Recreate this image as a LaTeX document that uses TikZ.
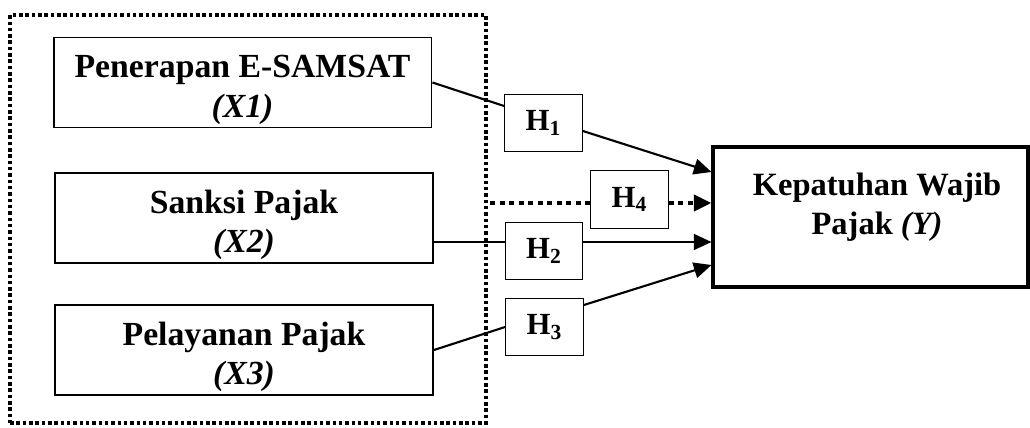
\documentclass[tikz,border=0pt]{standalone}
\usepackage{fontspec}
\setmainfont{Liberation Serif}
\usetikzlibrary{arrows.meta}
\tikzset{
  varbox/.style={draw,line width=1.1pt,inner ysep=0pt,minimum width=7.56cm,minimum height=1.8cm,align=center,font=\fontsize{19.2}{22.5}\selectfont\bfseries},
  hbox/.style={draw,line width=0.7pt,minimum width=1.55cm,minimum height=1.15cm,font=\fontsize{17.5}{20}\selectfont\bfseries},
  framebox/.style={draw,line width=2.2pt,dash pattern=on 2pt off 1.6pt,minimum width=9.52cm,minimum height=8.16cm},
  link/.style={line width=1.2pt},
  linkarrow/.style={line width=1.2pt,-{Triangle[length=10pt,width=9pt]}}
}
% strut that pushes the text a little down in the box
\newcommand{\downstrut}{\rule{0pt}{21pt}}
\begin{document}
\begin{tikzpicture}[x=0.02cm,y=-0.02cm]
  \useasboundingbox (0,0) rectangle (1030,428);
  %variabel bebas
  \node[framebox] (frame) at (248,219) {};
  \node[varbox] (X1) at (242.5,82.5) {\downstrut Penerapan E-SAMSAT\\\textit{(X1)}};
  \node[varbox] (X2) at (244,218) {\downstrut Sanksi Pajak\\\textit{(X2)}};
  \node[varbox] (X3) at (244,350) {\downstrut Pelayanan Pajak\\\textit{(X3)}};
  %variabel terikat
  \node[draw,line width=1.8pt,minimum width=6.3cm,minimum height=2.8cm] (Y) at (870.5,217) {};
  \node[align=center,font=\fontsize{18.5}{22.5}\selectfont\bfseries] (Ytext) at (877,207) {Kepatuhan Wajib\\Pajak \textit{(Y)}};
  %hipotesis
  \node[hbox] (H1) at (543.5,123) {H\textsubscript{1}};
  \node[hbox] (H4) at (629.5,199.5) {H\textsubscript{4}};
  \node[hbox] (H2) at (544,251) {H\textsubscript{2}};
  \node[hbox] (H3) at (544.5,327) {H\textsubscript{3}};
  %H1
  \draw[link] (X1.east) -- ([yshift=0.34cm]H1.west);
  \draw[linkarrow] ([yshift=-0.16cm]H1.east) -- ([yshift=0.9cm]Y.west);
  %H2
  \draw[link] ([yshift=-0.48cm]X2.east) coordinate (a2) -- (a2 -| H2.west);
  \draw[linkarrow] (a2 -| H2.east) -- (a2 -| Y.west);
  %H3
  \draw[link] (X3.east) -- (H3.west);
  \draw[linkarrow] ([yshift=0.44cm]H3.east) -- ([yshift=-0.96cm]Y.west);
  %H4
  \draw[line width=2.5pt,dash pattern=on 2.8pt off 2.6pt] ([yshift=-0.07cm]H4.west) coordinate (a4) -- (a4 -| frame.east);
  \draw[line width=2.5pt,dash pattern=on 2.8pt off 2.6pt,-{Triangle[length=10pt,width=9pt]}] (a4 -| H4.east) -- (a4 -| Y.west);
\end{tikzpicture}
\end{document}
